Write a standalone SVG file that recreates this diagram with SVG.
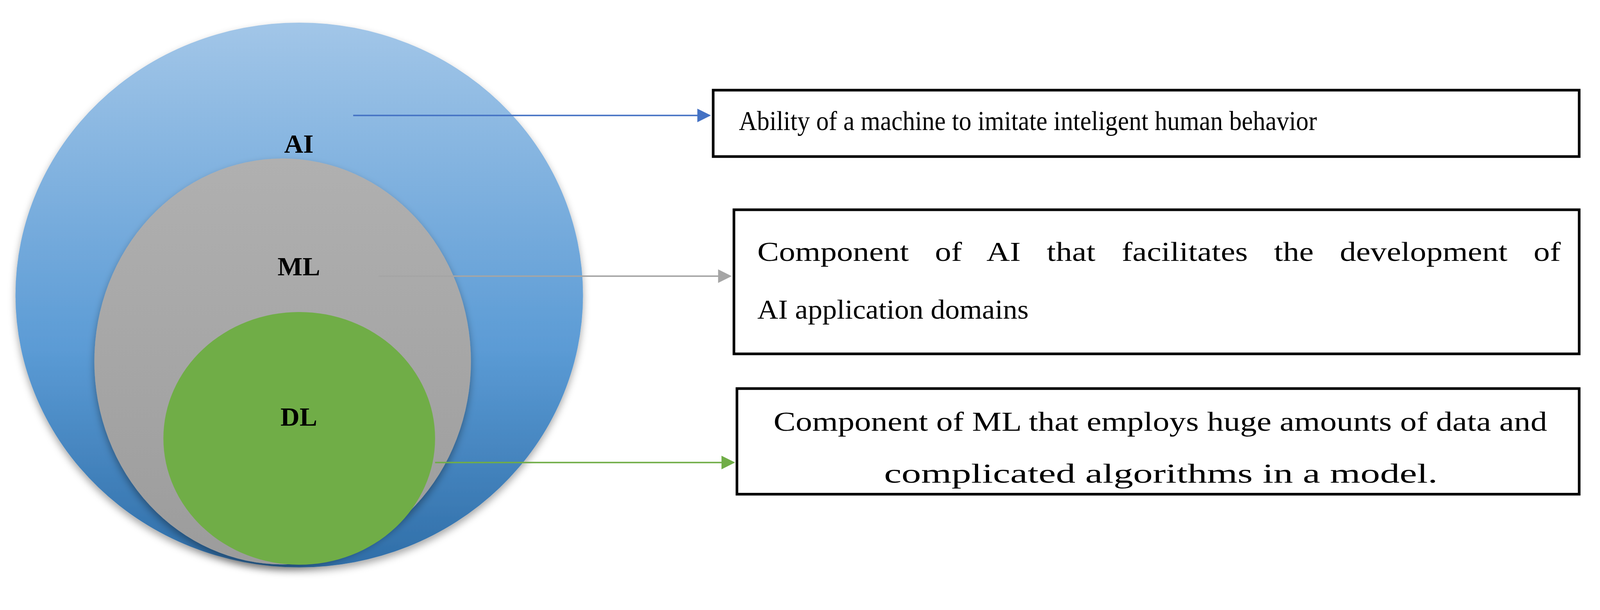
<svg xmlns="http://www.w3.org/2000/svg" width="4253" height="1562" viewBox="0 0 4253 1562">
<defs>
<linearGradient id="gAI" x1="0" y1="0" x2="0" y2="1"><stop offset="0" stop-color="#a2c6e8"/><stop offset="0.6" stop-color="#5b9bd5"/><stop offset="1" stop-color="#2f6ea8"/></linearGradient>
<linearGradient id="gML" x1="0" y1="0" x2="0" y2="1"><stop offset="0" stop-color="#b0b0b0"/><stop offset="1" stop-color="#9c9c9c"/></linearGradient>
<filter id="sh" x="-10%" y="-10%" width="120%" height="120%"><feDropShadow dx="0" dy="10" stdDeviation="10" flood-color="#000" flood-opacity="0.35"/></filter>
<marker id="mb" markerWidth="9" markerHeight="9" refX="8" refY="4.5" orient="auto" markerUnits="strokeWidth"><path d="M0,0 L9,4.5 L0,9 Z" fill="#4472c4"/></marker>
<marker id="mg" markerWidth="9" markerHeight="9" refX="8" refY="4.5" orient="auto" markerUnits="strokeWidth"><path d="M0,0 L9,4.5 L0,9 Z" fill="#a5a5a5"/></marker>
<marker id="mn" markerWidth="9" markerHeight="9" refX="8" refY="4.5" orient="auto" markerUnits="strokeWidth"><path d="M0,0 L9,4.5 L0,9 Z" fill="#70ad47"/></marker>
</defs>
<style>
.lbl{font-family:"Liberation Serif",serif;font-weight:bold;font-size:70px;text-anchor:middle;fill:#000}
.box{fill:#fff;stroke:#000;stroke-width:7}
.txt{font-family:"Liberation Serif",serif;font-size:72px;fill:#000}
</style>
<rect width="4253" height="1562" fill="#fff"/>
<g transform="scale(0.966)">
<g id="AI"><ellipse cx="793" cy="782" rx="752" ry="722" fill="url(#gAI)" filter="url(#sh)"/><text class="lbl" x="792" y="405">AI</text></g>
<g id="ML"><ellipse cx="749" cy="958" rx="499" ry="538" fill="url(#gML)" filter="url(#sh)"/><text class="lbl" x="792" y="730">ML</text></g>
<g id="DL"><ellipse cx="793" cy="1162" rx="360" ry="335" fill="#70ad47"/><text class="lbl" x="792" y="1128">DL</text></g>
<g id="connectors" fill="none" stroke-width="4">
<line x1="936" y1="306" x2="1880" y2="306" stroke="#4472c4" marker-end="url(#mb)"/>
<line x1="1003" y1="732" x2="1935" y2="732" stroke="#a5a5a5" marker-end="url(#mg)"/>
<line x1="1153" y1="1226" x2="1944" y2="1226" stroke="#70ad47" marker-end="url(#mn)"/>
</g>
<g id="box1"><rect class="box" x="1890" y="239" width="2295" height="176"/><text class="txt" x="1958" y="345" textLength="1532" lengthAdjust="spacingAndGlyphs">Ability of a machine to imitate inteligent human behavior</text></g>
<g id="box2"><rect class="box" x="1945" y="556" width="2240" height="382"/><text class="txt" x="2007" y="692" textLength="2129" lengthAdjust="spacingAndGlyphs" word-spacing="40">Component of AI that facilitates the development of</text><text class="txt" x="2007" y="845" textLength="719" lengthAdjust="spacingAndGlyphs">AI application domains</text></g>
<g id="box3"><rect class="box" x="1953" y="1030" width="2232" height="280"/><text class="txt" x="2050" y="1142" textLength="2050" lengthAdjust="spacingAndGlyphs">Component of ML that employs huge amounts of data and</text><text class="txt" x="2343" y="1280" textLength="1467" lengthAdjust="spacingAndGlyphs">complicated algorithms in a model.</text></g>
</g>
</svg>
